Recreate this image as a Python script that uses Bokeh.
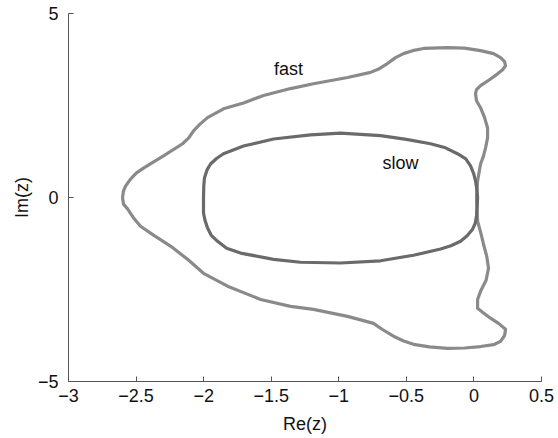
from bokeh.plotting import figure
from bokeh.models import Range1d, FixedTicker
from bokeh.core.properties import value
from bokeh.embed import file_html
from bokeh.resources import INLINE

# ---- data ----
fast_x = [-2.600, -2.593, -2.578, -2.541, -2.497, -2.445, -2.370, -2.297, -2.156, -2.110,
          -2.075, -2.025, -1.971, -1.853, -1.705, -1.557, -1.357, -1.187, -0.935, -0.765,
          -0.700, -0.640, -0.580, -0.521, -0.454, -0.373, -0.195, -0.070, 0.049, 0.145,
          0.197, 0.227, 0.234, 0.212, 0.175, 0.115, 0.049, 0.019, 0.012, 0.019,
          0.049, 0.079, 0.101, 0.101, 0.086, 0.071, 0.049, 0.027, 0.019,
          0.022, 0.027, 0.050, 0.071, 0.095, 0.108, 0.090, 0.049, 0.027, 0.027,
          0.064, 0.123, 0.182, 0.234, 0.227, 0.197, 0.145, 0.049, -0.070, -0.195,
          -0.330, -0.447, -0.520, -0.595, -0.680, -0.743, -0.935, -1.187, -1.357, -1.579,
          -1.823, -2.001, -2.060, -2.119, -2.245, -2.360, -2.467, -2.520, -2.563, -2.593,
          -2.600]
fast_y = [0.00, 0.18, 0.31, 0.50, 0.67, 0.80, 0.97, 1.13, 1.46, 1.62,
          1.81, 2.00, 2.17, 2.41, 2.57, 2.77, 2.96, 3.09, 3.26, 3.40,
          3.50, 3.64, 3.80, 3.91, 3.99, 4.05, 4.07, 4.06, 3.99, 3.91,
          3.80, 3.69, 3.58, 3.47, 3.36, 3.20, 3.04, 2.93, 2.82, 2.63,
          2.44, 2.17, 1.89, 1.62, 1.35, 1.13, 0.91, 0.45, 0.00,
          -0.30, -0.64, -0.95, -1.27, -1.60, -1.92, -2.25, -2.55, -2.77, -3.01,
          -3.12, -3.28, -3.42, -3.58, -3.75, -3.91, -4.00, -4.05, -4.09, -4.10,
          -4.06, -3.99, -3.90, -3.77, -3.58, -3.42, -3.23, -3.04, -2.96, -2.77,
          -2.41, -2.06, -1.87, -1.68, -1.32, -1.05, -0.78, -0.55, -0.31, -0.18,
          0.00]

slow_x = [-2.001, -1.999, -1.994, -1.975, -1.949, -1.905, -1.853, -1.705, -1.483, -1.209,
          -0.987, -0.691, -0.500, -0.321, -0.210, -0.122, -0.060, -0.025, -0.002, 0.012,
          0.022, 0.027,
          0.024, 0.019, 0.010, -0.010, -0.050, -0.099, -0.170, -0.247, -0.447, -0.691,
          -0.987, -1.283, -1.483, -1.727, -1.830, -1.897, -1.945, -1.971, -1.990, -2.001,
          -2.001]
slow_y = [0.00, 0.30, 0.53, 0.75, 0.91, 1.06, 1.19, 1.40, 1.59, 1.70,
          1.75, 1.68, 1.58, 1.46, 1.35, 1.19, 1.05, 0.86, 0.65, 0.45,
          0.22, 0.00,
          -0.25, -0.50, -0.70, -0.86, -1.04, -1.19, -1.31, -1.40, -1.57, -1.72,
          -1.78, -1.76, -1.68, -1.51, -1.38, -1.19, -1.02, -0.83, -0.62, -0.42,
          0.00]

x_ticks = [-3, -2.5, -2, -1.5, -1, -0.5, 0, 0.5]
x_tick_labels = ["\u22123", "\u22122.5", "\u22122", "\u22121.5", "\u22121", "\u22120.5", "0", "0.5"]
y_ticks = [-5, 0, 5]
y_tick_labels = ["\u22125", "0", "5"]

FONT = "Liberation Sans"

p = figure(width=558, height=438, output_backend="svg", toolbar_location=None,
           x_range=Range1d(-3, 0.5), y_range=Range1d(-5, 5),
           min_border_left=68, min_border_right=17, min_border_top=13, min_border_bottom=57)
p.outline_line_color = None
p.grid.visible = False
p.background_fill_color = "white"
p.border_fill_color = "white"

p.line(fast_x, fast_y, line_color="#8a8a8a", line_width=3.2, line_join="round", line_cap="round")
p.line(slow_x, slow_y, line_color="#6a6a6a", line_width=3.2, line_join="round", line_cap="round")

p.text(x=[-1.372], y=[3.50], text=["fast"], text_font=value(FONT), text_font_size="18px",
       text_align="center", text_baseline="middle", text_color="#111111")
p.text(x=[-0.543], y=[0.94], text=["slow"], text_font=value(FONT), text_font_size="18px",
       text_align="center", text_baseline="middle", text_color="#111111")

for ax, ticks, labels in ((p.xaxis[0], x_ticks, x_tick_labels), (p.yaxis[0], y_ticks, y_tick_labels)):
    ax.ticker = FixedTicker(ticks=ticks)
    ax.major_label_overrides = {t: l for t, l in zip(ticks, labels)}
    ax.major_tick_in = 5
    ax.major_tick_out = 0
    ax.minor_tick_line_color = None
    ax.axis_line_color = "#555555"
    ax.major_tick_line_color = "#555555"
    ax.major_label_text_font = FONT
    ax.major_label_text_font_size = "18px"
    ax.major_label_text_color = "#111111"
    ax.axis_label_text_font = FONT
    ax.axis_label_text_font_size = "18px"
    ax.axis_label_text_font_style = "normal"
    ax.axis_label_text_color = "#111111"

p.xaxis.axis_label = "Re(z)"
p.yaxis.axis_label = "Im(z)"
p.xaxis.major_label_standoff = 7
p.xaxis.axis_label_standoff = 9
p.yaxis.major_label_standoff = 10
p.yaxis.axis_label_standoff = 3

open("out.html", "w").write(file_html(p, INLINE))
